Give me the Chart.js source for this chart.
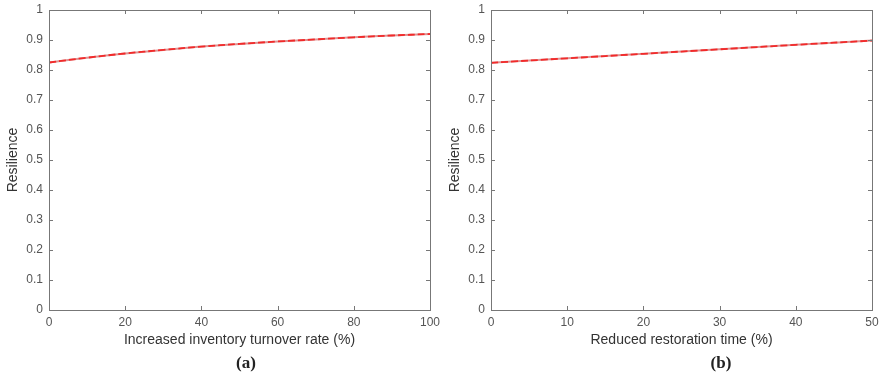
<!DOCTYPE html>
<html><head><meta charset="utf-8">
<script src="https://cdn.jsdelivr.net/npm/chart.js@4/dist/chart.umd.min.js"></script>
<style>
html,body{margin:0;padding:0;background:#fff;width:879px;height:377px;overflow:hidden;}
.wrap{position:absolute;top:0;height:377px;}
.lab{position:absolute;font-family:"Liberation Serif","DejaVu Serif",serif;font-weight:bold;font-size:17px;color:#222;transform:translateX(-50%);}
</style></head>
<body>
<div class="wrap" style="left:0;width:445px"><canvas id="ca"></canvas></div>
<div class="wrap" style="left:442px;width:437px"><canvas id="cb"></canvas></div>
<div class="lab" style="left:246px;top:353px">(a)</div>
<div class="lab" style="left:721px;top:353px">(b)</div>
<script>
const xA = [0,10,20,30,40,50,60,70,80,90,100];
const yA = [0.825,0.841,0.855,0.867,0.878,0.887,0.895,0.902,0.909,0.915,0.920];
const xB = [0,10,20,30,40,50];
const yB = [0.824,0.839,0.854,0.869,0.884,0.898];
const yTicks = [0,0.1,0.2,0.3,0.4,0.5,0.6,0.7,0.8,0.9,1];
const xTicksA = [0,20,40,60,80,100];
const xTicksB = [0,10,20,30,40,50];
const titleA = 'Increased inventory turnover rate (%)';
const titleB = 'Reduced restoration time (%)';
const yTitle = 'Resilience';

const boxPlugin = {
  id:'box',
  afterDraw(chart){
    const {ctx, chartArea:a, scales} = chart;
    ctx.save();
    ctx.strokeStyle = '#777'; ctx.lineWidth = 1;
    ctx.strokeRect(Math.round(a.left)+0.5, Math.round(a.top)+0.5, Math.round(a.right-a.left), Math.round(a.bottom-a.top));
    const L = 4;
    ctx.beginPath();
    scales.y.ticks.forEach(t=>{
      const p = Math.round(scales.y.getPixelForValue(t.value))+0.5;
      ctx.moveTo(a.left, p); ctx.lineTo(a.left+L, p);
      ctx.moveTo(a.right, p); ctx.lineTo(a.right-L, p);
    });
    scales.x.ticks.forEach(t=>{
      const p = Math.round(scales.x.getPixelForValue(t.value))+0.5;
      ctx.moveTo(p, a.bottom); ctx.lineTo(p, a.bottom-L);
      ctx.moveTo(p, a.top); ctx.lineTo(p, a.top+L);
    });
    ctx.stroke();
    ctx.restore();
  }
};

function make(id, xs, ys, xt, xTitle, xmax, padRight){
  const pts = xs.map((x,i)=>({x:x,y:ys[i]}));
  return new Chart(document.getElementById(id), {
    type:'line',
    data:{datasets:[
      {data:pts, borderColor:'rgba(190,40,40,0.5)', borderWidth:2, pointRadius:0, tension:0.4, order:2},
      {data:pts, borderColor:'#f22a2a', borderWidth:1.8, borderDash:[7,3], pointRadius:0, tension:0.4, order:1}
    ]},
    plugins:[boxPlugin],
    options:{
      responsive:false, animation:false, devicePixelRatio:1,
      layout:{padding:{top:10,right:padRight,bottom:28,left:0}},
      plugins:{legend:{display:false}, tooltip:{enabled:false}},
      scales:{
        x:{type:'linear', min:0, max:xmax,
          afterBuildTicks(s){ s.ticks = xt.map(v=>({value:v})); },
          afterFit(s){ s.height = 39; s.paddingLeft = 0; s.paddingRight = 0; },
          grid:{display:false, drawTicks:false},
          border:{display:false},
          ticks:{color:'#555', font:{family:'Liberation Sans, Arial', size:12}, padding:5, maxRotation:0, autoSkip:false},
          title:{display:true, text:xTitle, color:'#333', font:{family:'Liberation Sans, Arial', size:14}, padding:{top:3,bottom:0}}
        },
        y:{min:0, max:1,
          afterBuildTicks(s){ s.ticks = yTicks.map(v=>({value:v})); },
          afterFit(s){ s.width = 49; s.paddingTop = 0; s.paddingBottom = 0; },
          grid:{display:false, drawTicks:false},
          border:{display:false},
          ticks:{color:'#555', font:{family:'Liberation Sans, Arial', size:12}, padding:6, autoSkip:false,
            callback:v=>String(Math.round(v*10)/10)},
          title:{display:true, text:yTitle, color:'#333', font:{family:'Liberation Sans, Arial', size:14}, padding:{top:5,bottom:0}}
        }
      }
    }
  });
}
document.getElementById('ca').width=445; document.getElementById('ca').height=377;
document.getElementById('cb').width=437; document.getElementById('cb').height=377;
make('ca', xA, yA, xTicksA, titleA, 100, 15);
make('cb', xB, yB, xTicksB, titleB, 50, 7);
</script>
</body></html>
